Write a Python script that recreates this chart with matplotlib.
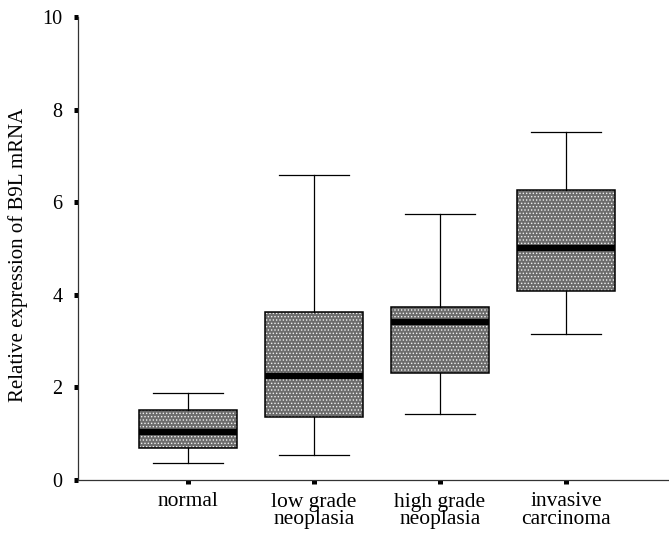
import matplotlib
matplotlib.use("Agg")
import matplotlib.pyplot as plt

categories = ["normal", "low grade\nneoplasia", "high grade\nneoplasia", "invasive\ncarcinoma"]
whisker_low = [0.37, 0.54, 1.43, 3.15]
q1 = [0.69, 1.36, 2.31, 4.08]
median = [1.04, 2.25, 3.41, 5.01]
q3 = [1.51, 3.63, 3.74, 6.26]
whisker_high = [1.88, 6.59, 5.75, 7.52]
yticks = [0, 2, 4, 6, 8, 10]
ylabel = "Relative expression of B9L mRNA"

plt.rcParams['font.family'] = ['Liberation Serif', 'DejaVu Serif']
plt.rcParams['hatch.linewidth'] = 0.6

fig = plt.figure(figsize=(6.69, 5.33), dpi=100)
ax = fig.add_axes([78/669, 1-480/533, 1-78/669, (480-17)/533])

stats = []
for i in range(len(categories)):
    stats.append(dict(whislo=whisker_low[i], q1=q1[i], med=median[i], q3=q3[i],
                      whishi=whisker_high[i], fliers=[], label=categories[i]))
positions = list(range(1, len(categories)+1))

# fill with pattern
b1 = ax.bxp(stats, positions=positions, widths=0.78, capwidths=0.55, patch_artist=True,
            showfliers=False,
            boxprops=dict(facecolor='#6c6c6c', edgecolor='#f2f2f2', linewidth=0.0),
            medianprops=dict(color='none'), whiskerprops=dict(color='none'),
            capprops=dict(color='none'))
for p in b1['boxes']:
    p.set_hatch('.....')
# outline
ax.bxp(stats, positions=positions, widths=0.78, capwidths=0.55, patch_artist=True,
       showfliers=False,
       boxprops=dict(facecolor='none', edgecolor='black', linewidth=1.1),
       medianprops=dict(color='black', linewidth=4.5, solid_capstyle='butt'),
       whiskerprops=dict(color='black', linewidth=0.9),
       capprops=dict(color='black', linewidth=0.9))

ax.set_xlim(0.127, 4.817)
ax.set_ylim(0, 10)
ax.set_yticks(yticks)
ax.set_yticklabels([str(v) for v in yticks])
ax.set_xticks(positions)
ax.set_xticklabels(categories, fontsize=15.5, linespacing=0.92)
ax.tick_params(axis='y', direction='out', length=3, width=3.6, pad=8, labelsize=14.5, color='black')
ax.tick_params(axis='x', direction='out', length=3, width=3.6, pad=6, color='black')
ax.spines['top'].set_visible(False)
ax.spines['right'].set_visible(False)
for s in ['left', 'bottom']:
    ax.spines[s].set_linewidth(0.9)
    ax.spines[s].set_color('#333333')
ax.set_ylabel(ylabel, fontsize=15)
ax.yaxis.set_label_coords(-50/591, 225/463)

fig.savefig("out.png", dpi=100)
